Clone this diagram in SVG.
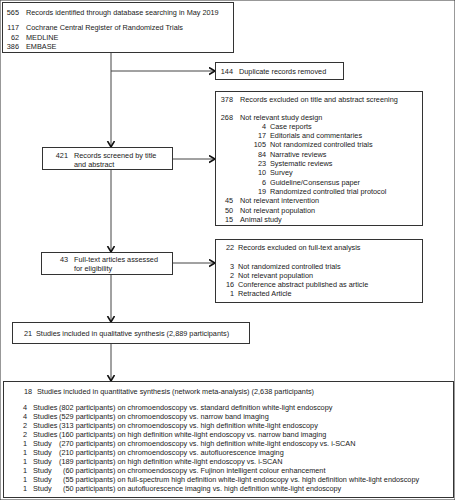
<svg xmlns="http://www.w3.org/2000/svg" width="455" height="500" viewBox="0 0 455 500">
<defs>
<style>
text{font-family:"Liberation Sans",Arial,sans-serif;font-size:7.3px;fill:#1a1a1a}
.n{text-anchor:end}
rect{fill:#fff;stroke:#333;stroke-width:1}
.c line{stroke:#444;stroke-width:1}
</style>
<marker id="ah" markerUnits="userSpaceOnUse" markerWidth="10" markerHeight="10" refX="6.5" refY="4" orient="auto">
<path d="M0.5,0.5 L6.5,4 L0.5,7.5" fill="none" stroke="#111" stroke-width="1.6"/>
</marker>
</defs>
<rect width="455" height="500" fill="#fff" stroke="none"/>
<g class="c" id="connectors">
<line x1="111" y1="52" x2="111" y2="147" marker-end="url(#ah)"/>
<line x1="111" y1="71" x2="215" y2="71" marker-end="url(#ah)"/>
<line x1="172" y1="159" x2="215" y2="159" marker-end="url(#ah)"/>
<line x1="111" y1="170" x2="111" y2="252" marker-end="url(#ah)"/>
<line x1="172" y1="263" x2="215" y2="263" marker-end="url(#ah)"/>
<line x1="111" y1="275" x2="111" y2="322" marker-end="url(#ah)"/>
<line x1="111" y1="344" x2="111" y2="381" marker-end="url(#ah)"/>
</g>
<g id="identified">
<rect x="2.5" y="2.5" width="231" height="50"/>
<text class="n" x="19" y="15">565</text><text x="26" y="15">Records identified through database searching in May 2019</text>
<text class="n" x="19" y="30">117</text><text x="26" y="30">Cochrane Central Register of Randomized Trials</text>
<text class="n" x="19" y="39.5">62</text><text x="26" y="39.5">MEDLINE</text>
<text class="n" x="19" y="49">386</text><text x="26" y="49">EMBASE</text>
</g>
<g id="duplicates">
<rect x="215.5" y="62.5" width="128" height="17"/>
<text class="n" x="233" y="73.5">144</text><text x="239" y="73.5">Duplicate records removed</text>
</g>
<g id="excluded-title">
<rect x="215.5" y="91.5" width="207" height="134"/>
<text class="n" x="233" y="102">378</text><text x="240" y="102">Records excluded on title and abstract screening</text>
<text class="n" x="233" y="119.5">268</text><text x="240" y="119.5">Not relevant study design</text>
<text class="n" x="266" y="128.8">4</text><text x="270" y="128.8">Case reports</text>
<text class="n" x="266" y="138.1">17</text><text x="270" y="138.1">Editorials and commentaries</text>
<text class="n" x="266" y="147.4">105</text><text x="270" y="147.4">Not randomized controlled trials</text>
<text class="n" x="266" y="156.7">84</text><text x="270" y="156.7">Narrative reviews</text>
<text class="n" x="266" y="166">23</text><text x="270" y="166">Systematic reviews</text>
<text class="n" x="266" y="175.3">10</text><text x="270" y="175.3">Survey</text>
<text class="n" x="266" y="184.6">6</text><text x="270" y="184.6">Guideline/Consensus paper</text>
<text class="n" x="266" y="193.9">19</text><text x="270" y="193.9">Randomized controlled trial protocol</text>
<text class="n" x="233" y="203.2">45</text><text x="240" y="203.2">Not relevant intervention</text>
<text class="n" x="233" y="212.5">50</text><text x="240" y="212.5">Not relevant population</text>
<text class="n" x="233" y="221.8">15</text><text x="240" y="221.8">Animal study</text>
</g>
<g id="screened">
<rect x="42.5" y="147.5" width="130" height="22"/>
<text class="n" x="68" y="157.5">421</text><text x="74" y="157.5">Records screened by title</text>
<text x="74" y="166.5">and abstract</text>
</g>
<g id="fulltext">
<rect x="41.5" y="252.5" width="131" height="22"/>
<text class="n" x="68" y="262">43</text><text x="74" y="262">Full-text articles assessed</text>
<text x="74" y="271">for eligibility</text>
</g>
<g id="excluded-fulltext">
<rect x="215.5" y="239.5" width="207" height="63"/>
<text class="n" x="234" y="250">22</text><text x="238" y="250">Records excluded on full-text analysis</text>
<text class="n" x="234" y="268.5">3</text><text x="238" y="268.5">Not randomized controlled trials</text>
<text class="n" x="234" y="277.8">2</text><text x="238" y="277.8">Not relevant population</text>
<text class="n" x="234" y="287.1">16</text><text x="238" y="287.1">Conference abstract published as article</text>
<text class="n" x="234" y="296.4">1</text><text x="238" y="296.4">Retracted Article</text>
</g>
<g id="qualitative">
<rect x="12.5" y="322.5" width="237" height="21"/>
<text class="n" x="32" y="335.5">21</text><text x="36" y="335.5">Studies included in qualitative synthesis (2,889 participants)</text>
</g>
<g id="quantitative">
<rect x="3.5" y="381.5" width="450" height="116"/>
<text class="n" x="32" y="394">18</text><text x="37" y="394">Studies included in quantitative synthesis (network meta-analysis) (2,638 participants)</text>
<text class="n" x="27" y="410">4</text><text x="33" y="410">Studies</text><text x="59" y="410">(802 participants) on chromoendoscopy vs. standard definition white-light endoscopy</text>
<text class="n" x="27" y="419">4</text><text x="33" y="419">Studies</text><text x="59" y="419">(529 participants) on chromoendoscopy vs. narrow band imaging</text>
<text class="n" x="27" y="428">2</text><text x="33" y="428">Studies</text><text x="59" y="428">(313 participants) on chromoendoscopy vs. high definition white-light endoscopy</text>
<text class="n" x="27" y="437">2</text><text x="33" y="437">Studies</text><text x="59" y="437">(160 participants) on high definition white-light endoscopy vs. narrow band imaging</text>
<text class="n" x="27" y="446">1</text><text x="33" y="446">Study</text><text x="59" y="446">(270 participants) on chromoendoscopy vs. high definition white-light endoscopy vs. i-SCAN</text>
<text class="n" x="27" y="455">1</text><text x="33" y="455">Study</text><text x="59" y="455">(210 participants) on chromoendoscopy vs. autofluorescence imaging</text>
<text class="n" x="27" y="464">1</text><text x="33" y="464">Study</text><text x="59" y="464">(189 participants) on high definition white-light endoscopy vs. i-SCAN</text>
<text class="n" x="27" y="473">1</text><text x="33" y="473">Study</text><text x="63" y="473">(60 participants) on chromoendoscopy vs. Fujinon intelligent colour enhancement</text>
<text class="n" x="27" y="482">1</text><text x="33" y="482">Study</text><text x="63" y="482">(55 participants) on full-spectrum high definition white-light endoscopy vs. high definition white-light endoscopy</text>
<text class="n" x="27" y="491">1</text><text x="33" y="491">Study</text><text x="63" y="491">(50 participants) on autofluorescence imaging vs. high definition white-light endoscopy</text>
</g>
</svg>
